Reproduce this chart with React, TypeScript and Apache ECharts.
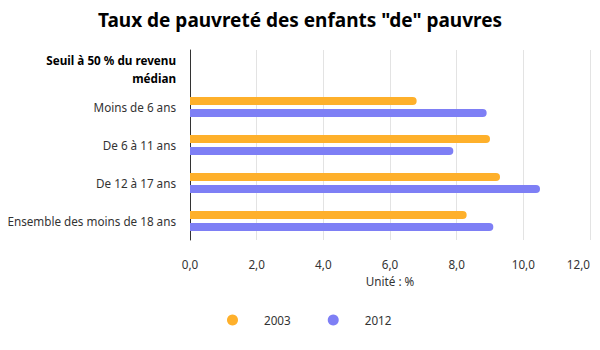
import React, { useEffect, useRef } from "react";
import * as echarts from "echarts";

const title = 'Taux de pauvreté des enfants "de" pauvres';
const categories = [
  "Seuil à 50 % du revenu\nmédian",
  "Moins de 6 ans",
  "De 6 à 11 ans",
  "De 12 à 17 ans",
  "Ensemble des moins de 18 ans",
];
const seriesNames = ["2003", "2012"];
const values2003: (number | null)[] = [null, 6.8, 9.0, 9.3, 8.3];
const values2012: (number | null)[] = [null, 8.9, 7.9, 10.5, 9.1];
const xMin = 0;
const xMax = 12;
const xInterval = 2;
const xAxisName = "Unité : %";

export default function App() {
  const ref = useRef<HTMLDivElement>(null);
  useEffect(() => {
    if (!ref.current) return;
    const chart = echarts.init(ref.current, undefined, { renderer: "svg" });
    const font = "'Noto Sans', sans-serif";
    const fs = 11.7;
    chart.setOption({
      animation: false,
      textStyle: { fontFamily: font },
      title: {
        text: title,
        left: "center",
        top: 5,
        textStyle: { fontSize: 19, fontWeight: "bold", color: "#000", fontFamily: font },
      },
      legend: {
        data: seriesNames,
        left: 222,
        top: 309,
        icon: "circle",
        itemWidth: 11,
        itemHeight: 11,
        itemGap: 37,
        textStyle: { fontSize: fs, color: "#333", padding: [0, 0, 0, 21], fontFamily: font },
      },
      grid: { left: 190, right: 10, top: 50, bottom: 110, containLabel: false },
      xAxis: {
        type: "value",
        min: xMin,
        max: xMax,
        interval: xInterval,
        name: xAxisName,
        nameLocation: "middle",
        nameGap: 34,
        nameTextStyle: { fontSize: fs, color: "#333", fontFamily: font },
        axisLine: { show: false },
        axisTick: { show: false },
        axisLabel: {
          margin: 18,
          fontSize: fs,
          color: "#333",
          fontFamily: font,
          alignMaxLabel: "right",
          formatter: (v: number) => v.toFixed(1).replace(".", ","),
        },
        splitLine: { show: true, lineStyle: { color: "#e3e3e3", width: 1 } },
      },
      yAxis: {
        type: "category",
        data: categories,
        inverse: true,
        axisLine: { show: true, lineStyle: { color: "#333", width: 1 } },
        axisTick: { show: false },
        axisLabel: {
          margin: 14,
          fontSize: fs,
          color: "#333",
          fontFamily: font,
          lineHeight: 18,
          formatter: (v: string, i: number) => (i === 0 ? "{h|" + v.split("\n").join("}\n{h|") + "}" : v),
          rich: {
            h: { fontWeight: "bold", color: "#000", fontSize: fs, fontFamily: font, lineHeight: 18, align: "right" },
          },
        },
      },
      series: [
        {
          name: seriesNames[0],
          type: "bar",
          data: values2003,
          barWidth: 8,
          barGap: "50%",
          itemStyle: { color: "#FEB02B", borderRadius: [0, 4, 4, 0] },
        },
        {
          name: seriesNames[1],
          type: "bar",
          data: values2012,
          barWidth: 8,
          barGap: "50%",
          itemStyle: { color: "#7E7FF5", borderRadius: [0, 4, 4, 0] },
        },
      ],
    });
    return () => chart.dispose();
  }, []);
  return <div ref={ref} style={{ width: 600, height: 350, margin: -8 }} />;
}
